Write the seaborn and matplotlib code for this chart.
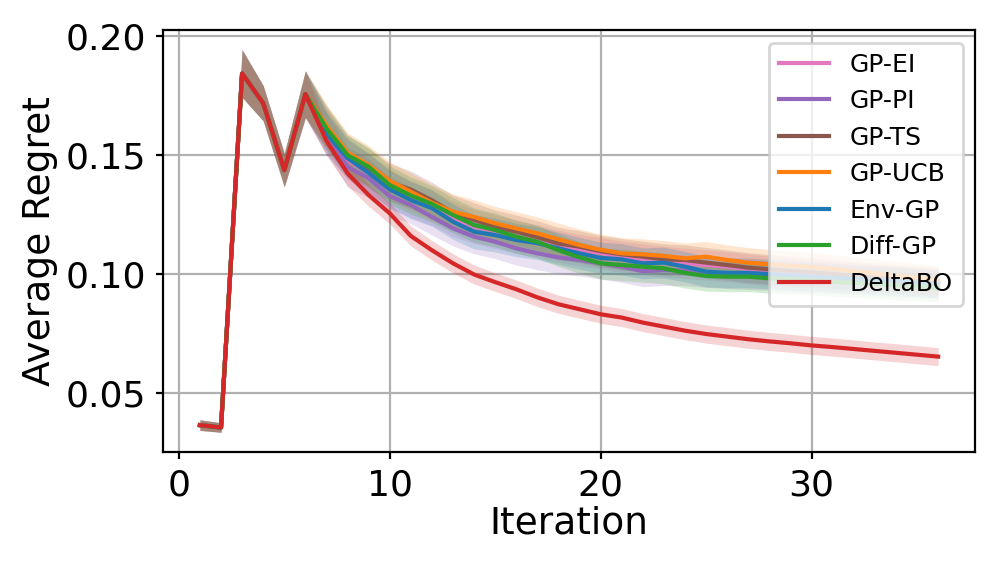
import numpy as np
import pandas as pd
import seaborn as sns
import matplotlib.pyplot as plt

# iterations 1..36
iterations = list(range(1, 37))

methods = ["GP-EI", "GP-PI", "GP-TS", "GP-UCB", "Env-GP", "Diff-GP", "DeltaBO"]
colors = ["#e377c2", "#9467bd", "#8c564b", "#ff7f0e", "#1f77b4", "#2ca02c", "#d62728"]

# mean average regret
gp_ei = [0.0365, 0.0355, 0.1843, 0.1718, 0.1437, 0.1756, 0.1610, 0.1480, 0.1425, 0.1360,
         0.1315, 0.1280, 0.1232, 0.1200, 0.1178, 0.1157, 0.1138, 0.1117, 0.1100, 0.1088,
         0.1072, 0.1062, 0.1052, 0.1045, 0.1038, 0.1031, 0.1021, 0.1013, 0.1006, 0.1000,
         0.0993, 0.0987, 0.0980, 0.0974, 0.0968, 0.0962]
gp_pi = [0.0365, 0.0355, 0.1843, 0.1718, 0.1437, 0.1756, 0.1595, 0.1450, 0.1403, 0.1328,
         0.1290, 0.1240, 0.1192, 0.1157, 0.1136, 0.1108, 0.1087, 0.1070, 0.1059, 0.1045,
         0.1031, 0.1012, 0.1017, 0.1015, 0.1008, 0.1002, 0.0998, 0.0993, 0.0988, 0.0984,
         0.0980, 0.0975, 0.0970, 0.0966, 0.0961, 0.0956]
gp_ts = [0.0365, 0.0355, 0.1843, 0.1718, 0.1437, 0.1756, 0.1620, 0.1500, 0.1445, 0.1385,
         0.1355, 0.1310, 0.1258, 0.1228, 0.1198, 0.1178, 0.1155, 0.1128, 0.1115, 0.1096,
         0.1083, 0.1073, 0.1062, 0.1059, 0.1048, 0.1038, 0.1027, 0.1020, 0.1013, 0.1007,
         0.1000, 0.0993, 0.0987, 0.0980, 0.0975, 0.0970]
gp_ucb = [0.0365, 0.0355, 0.1843, 0.1718, 0.1437, 0.1756, 0.1625, 0.1510, 0.1458, 0.1392,
          0.1346, 0.1300, 0.1262, 0.1240, 0.1213, 0.1192, 0.1171, 0.1146, 0.1122, 0.1102,
          0.1087, 0.1083, 0.1076, 0.1066, 0.1073, 0.1059, 0.1048, 0.1041, 0.1035, 0.1030,
          0.1022, 0.1012, 0.1003, 0.0993, 0.0985, 0.0975]
env_gp = [0.0365, 0.0355, 0.1843, 0.1718, 0.1437, 0.1756, 0.1590, 0.1487, 0.1425, 0.1356,
          0.1311, 0.1277, 0.1220, 0.1178, 0.1164, 0.1143, 0.1130, 0.1108, 0.1087, 0.1068,
          0.1062, 0.1045, 0.1048, 0.1031, 0.1010, 0.1005, 0.1005, 0.1000, 0.0995, 0.0990,
          0.0985, 0.0980, 0.0975, 0.0970, 0.0965, 0.0958]
diff_gp = [0.0365, 0.0355, 0.1843, 0.1718, 0.1437, 0.1756, 0.1612, 0.1500, 0.1451, 0.1374,
           0.1330, 0.1295, 0.1248, 0.1206, 0.1185, 0.1157, 0.1136, 0.1100, 0.1070, 0.1045,
           0.1038, 0.1031, 0.1024, 0.1005, 0.0992, 0.0989, 0.0989, 0.0982, 0.0978, 0.0973,
           0.0968, 0.0963, 0.0958, 0.0952, 0.0947, 0.0942]
deltabo = [0.0365, 0.0355, 0.1843, 0.1718, 0.1437, 0.1756, 0.1560, 0.1423, 0.1332, 0.1255,
           0.1160, 0.1100, 0.1045, 0.0998, 0.0966, 0.0936, 0.0902, 0.0873, 0.0852, 0.0831,
           0.0817, 0.0796, 0.0779, 0.0762, 0.0748, 0.0737, 0.0726, 0.0717, 0.0709, 0.0700,
           0.0693, 0.0685, 0.0677, 0.0669, 0.0661, 0.0653]

# half-width of the shaded bands
std_gp = [0.0022, 0.0020, 0.0100, 0.0074, 0.0070, 0.0098, 0.0088, 0.0084, 0.0082, 0.0080,
          0.0078, 0.0076, 0.0074, 0.0072, 0.0071, 0.0070, 0.0069, 0.0068, 0.0067, 0.0066,
          0.0066, 0.0065, 0.0065, 0.0064, 0.0064, 0.0063, 0.0063, 0.0062, 0.0062, 0.0061,
          0.0061, 0.0060, 0.0060, 0.0060, 0.0059, 0.0059]
std_delta = [0.0022, 0.0020, 0.0100, 0.0074, 0.0070, 0.0098, 0.0062, 0.0052, 0.0047, 0.0044,
             0.0042, 0.0041, 0.0040, 0.0040, 0.0039, 0.0039, 0.0039, 0.0038, 0.0038, 0.0038,
             0.0038, 0.0038, 0.0038, 0.0038, 0.0038, 0.0038, 0.0038, 0.0038, 0.0038, 0.0038,
             0.0038, 0.0038, 0.0038, 0.0038, 0.0038, 0.0038]

means = [gp_ei, gp_pi, gp_ts, gp_ucb, env_gp, diff_gp, deltabo]
stds = [std_gp, std_gp, std_gp, std_gp, std_gp, std_gp, std_delta]

fig, ax = plt.subplots(figsize=(4.985, 2.85), dpi=200)
fig.subplots_adjust(left=0.1635, right=0.978, top=0.947, bottom=0.207)

for name, c, m, s in zip(methods, colors, means, stds):
    df = pd.DataFrame({"Iteration": iterations, "regret": m})
    sns.lineplot(data=df, x="Iteration", y="regret", color=c, lw=1.5, label=name, ax=ax)
    m = np.array(m)
    s = np.array(s)
    ax.fill_between(iterations, m - s, m + s, color=c, alpha=0.2, lw=0)

ax.grid(True, color="#b0b0b0", lw=0.8)
ax.set_axisbelow(True)
ax.set_xlabel("Iteration", fontsize=13.5, labelpad=1)
ax.set_ylabel("Average Regret", fontsize=13.5, labelpad=3)
ax.set_yticks([0.05, 0.10, 0.15, 0.20])
ax.set_xticks([0, 10, 20, 30])
ax.tick_params(labelsize=13, length=2.5, width=0.8)
ax.set_ylim(0.0252, 0.2025)
ax.set_xlim(-0.75, 37.75)
ax.legend(loc="upper right", fontsize=9)

fig.savefig("out.png", dpi=200)
